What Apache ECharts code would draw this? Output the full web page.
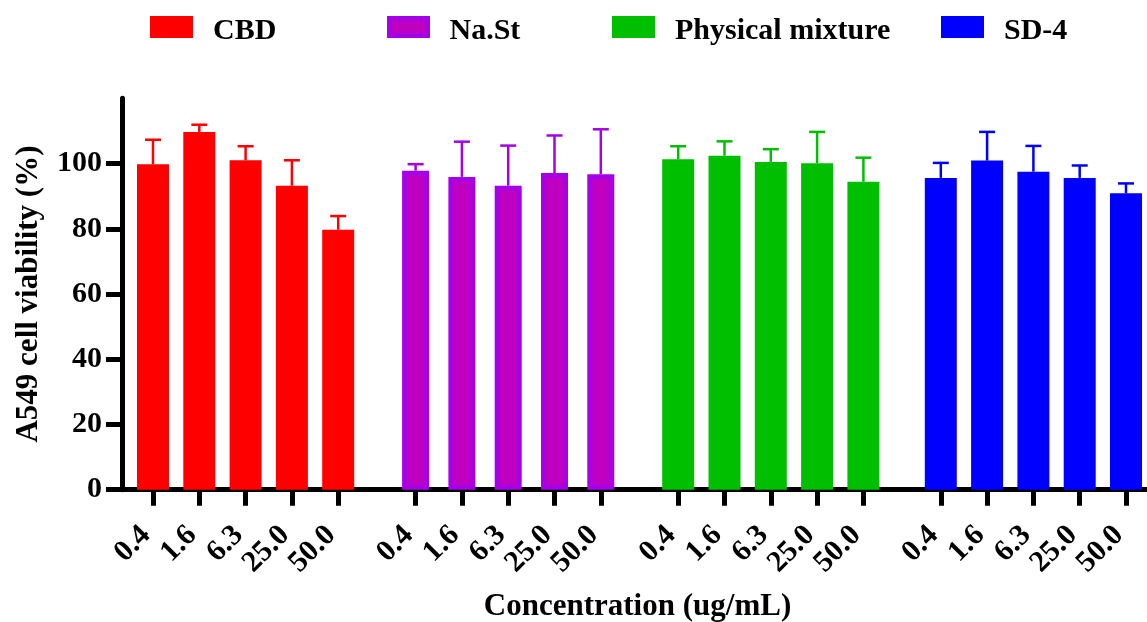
<!DOCTYPE html>
<html>
<head>
<meta charset="utf-8">
<script src="https://cdn.jsdelivr.net/npm/echarts@6/dist/echarts.min.js"></script>
<style>html,body{margin:0;padding:0;background:#fff;}#c{width:1147px;height:622px;}</style>
</head>
<body>
<div id="c"></div>
<script>
const categories = ['0.4', '1.6', '6.3', '25.0', '50.0'];
const seriesNames = ['CBD', 'Na.St', 'Physical mixture', 'SD-4'];
const cbdMean = [99.8, 109.7, 101.0, 93.2, 79.7];
const cbdSD = [7.5, 2.2, 4.3, 7.8, 4.2];
const naStMean = [97.8, 95.9, 93.2, 97.1, 96.7];
const naStSD = [2.0, 10.8, 12.3, 11.5, 13.8];
const physMean = [101.3, 102.4, 100.5, 100.1, 94.4];
const physSD = [4.0, 4.4, 3.9, 9.6, 7.4];
const sd4Mean = [95.6, 100.9, 97.5, 95.6, 90.9];
const sd4SD = [4.6, 8.8, 7.9, 3.8, 3.0];
const yTicks = [0, 20, 40, 60, 80, 100];
const xTitle = 'Concentration (ug/mL)';
const yTitle = 'A549 cell viability (%)';

const means = [cbdMean, naStMean, physMean, sd4Mean];
const sds = [cbdSD, naStSD, physSD, sd4SD];
const fills = ['#FF0000', '#C000C0', '#00BF00', '#0000FF'];
const strokes = ['#FF0000', '#A600E6', '#00BF00', '#0000FF'];
const borderW = [0, 5, 0, 0];
const barW = [32, 27, 32, 32];
const legendLeft = [150, 387, 612, 941];

const FONT = 'Liberation Serif';
const TOP = 98.3, BOTTOM = 132.3;
const SLOT = 46.3, GROUP_STEP = 262.6, FIRST_CENTER = 153;

const grids = [{left: 122, right: -6, top: TOP, bottom: BOTTOM, outerBoundsMode: 'none', containLabel: false}];
const xAxes = [{
  gridIndex: 0, type: 'value', min: 0, max: 1,
  axisLine: {show: true, onZero: false, lineStyle: {color: '#000', width: 5}},
  axisTick: {show: false}, axisLabel: {show: false}, splitLine: {show: false},
  name: xTitle, nameLocation: 'middle', nameGap: 102,
  nameTextStyle: {fontFamily: FONT, fontWeight: 'bold', fontSize: 31, color: '#000'}
}];
const yAxes = [{
  gridIndex: 0, type: 'value', min: 0, max: 120, interval: 20,
  axisLine: {show: true, lineStyle: {color: '#000', width: 5}},
  axisTick: {show: true, length: 16, lineStyle: {color: '#000', width: 5}, customValues: yTicks},
  axisLabel: {customValues: yTicks, margin: 20, fontFamily: FONT, fontWeight: 'bold', fontSize: 30, color: '#000'},
  splitLine: {show: false},
  name: yTitle, nameLocation: 'middle', nameRotate: 90, nameGap: 78,
  nameTextStyle: {fontFamily: FONT, fontWeight: 'bold', fontSize: 31, color: '#000'}
}];
const series = [];
for (let g = 0; g < 4; g++) {
  grids.push({left: FIRST_CENTER - SLOT / 2 + g * GROUP_STEP, width: SLOT * 5, top: TOP, bottom: BOTTOM, outerBoundsMode: 'none', containLabel: false});
  xAxes.push({
    gridIndex: g + 1, type: 'category', data: categories,
    axisLine: {show: false},
    axisTick: {show: true, alignWithLabel: true, length: 16, lineStyle: {color: '#000', width: 5}},
    axisLabel: {rotate: 45, interval: 0, margin: 34, padding: [0, 10, 0, 0], fontFamily: FONT, fontWeight: 'bold', fontSize: 30, color: '#000'},
    splitLine: {show: false}
  });
  yAxes.push({gridIndex: g + 1, type: 'value', min: 0, max: 120, show: false, splitLine: {show: false}});
  series.push({
    name: seriesNames[g], type: 'bar', xAxisIndex: g + 1, yAxisIndex: g + 1,
    barWidth: barW[g], data: means[g],
    itemStyle: {color: fills[g], borderColor: strokes[g], borderWidth: borderW[g]},
    z: 2
  });
  const col = strokes[g];
  series.push({
    type: 'custom', xAxisIndex: g + 1, yAxisIndex: g + 1, z: 3,
    data: means[g].map((m, i) => [i, m, m + sds[g][i]]),
    renderItem: function (params, api) {
      const x = api.value(0);
      const p0 = api.coord([x, api.value(1)]);
      const p1 = api.coord([x, api.value(2)]);
      return {type: 'group', children: [
        {type: 'line', shape: {x1: p0[0], y1: p0[1], x2: p1[0], y2: p1[1]}, style: {stroke: col, lineWidth: 2.5}},
        {type: 'line', shape: {x1: p1[0] - 8, y1: p1[1], x2: p1[0] + 8, y2: p1[1]}, style: {stroke: col, lineWidth: 2.5}}
      ]};
    }
  });
}
const legends = seriesNames.map((n, g) => ({
  data: [n], left: legendLeft[g], top: 12, padding: 0, icon: 'rect', itemWidth: borderW[g] ? 38 : 43, itemHeight: borderW[g] ? 17 : 22,
  selectedMode: false,
  itemStyle: {color: fills[g], borderColor: strokes[g], borderWidth: borderW[g]},
  formatter: '{s|}{t|{name}}',
  textStyle: {
    fontFamily: FONT, fontWeight: 'bold', fontSize: 30, color: '#000',
    rich: {
      s: {width: borderW[g] ? 17 : 15, height: 38},
      t: {fontFamily: FONT, fontWeight: 'bold', fontSize: 30, color: '#000', verticalAlign: 'bottom'}
    }
  }
}));

const chart = echarts.init(document.getElementById('c'), null, {renderer: 'canvas'});
chart.setOption({
  backgroundColor: '#fff',
  animation: false,
  legend: legends,
  grid: grids,
  xAxis: xAxes,
  yAxis: yAxes,
  series: series
});
</script>
</body>
</html>
